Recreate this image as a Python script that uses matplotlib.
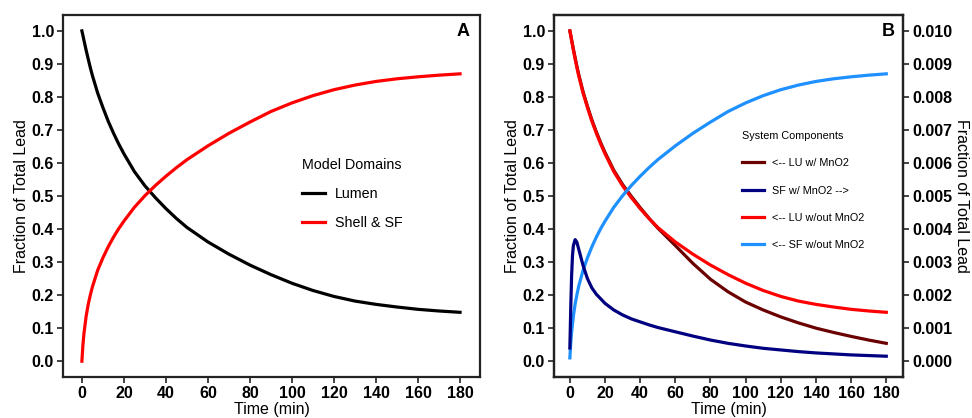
#!/usr/bin/env python3
# -*- coding: utf-8 -*-

import matplotlib
matplotlib.use("Agg")
import matplotlib.pyplot as plt
from matplotlib.ticker import FormatStrFormatter, MultipleLocator


plt.rcParams['font.family'] = ['Liberation Sans', 'DejaVu Sans']

# data
time = [0, 0.5, 1, 2, 3, 4, 5, 7.5, 10, 12.5, 15, 17.5, 20, 25, 30, 35, 40, 45, 50,
        60, 70, 80, 90, 100, 110, 120, 130, 140, 150, 160, 170, 180]

lumen = [1.0, 0.986, 0.971, 0.942, 0.915, 0.889, 0.865, 0.812, 0.768, 0.727,
         0.691, 0.658, 0.628, 0.574, 0.531, 0.495, 0.462, 0.432, 0.405,
         0.361, 0.324, 0.291, 0.262, 0.236, 0.214, 0.196, 0.182, 0.172,
         0.164, 0.157, 0.152, 0.148]

shell_sf = [0.0, 0.05, 0.085, 0.135, 0.172, 0.2, 0.225, 0.275, 0.313, 0.346,
            0.375, 0.401, 0.424, 0.466, 0.501, 0.532, 0.56, 0.586, 0.61,
            0.652, 0.69, 0.724, 0.756, 0.782, 0.804, 0.822, 0.836, 0.847,
            0.855, 0.861, 0.866, 0.87]

# panel B (left axis)
lu_with = [1.0, 0.987, 0.973, 0.945, 0.919, 0.893, 0.869, 0.816, 0.772, 0.731,
           0.695, 0.662, 0.632, 0.578, 0.535, 0.499, 0.465, 0.433, 0.403,
           0.35, 0.296, 0.248, 0.21, 0.179, 0.155, 0.134, 0.116, 0.1,
           0.087, 0.075, 0.064, 0.054]
lu_without = lumen
sf_without = [0.01, 0.055, 0.088, 0.137, 0.173, 0.201, 0.226, 0.275, 0.313, 0.346,
              0.375, 0.401, 0.424, 0.466, 0.501, 0.532, 0.56, 0.586, 0.61,
              0.652, 0.69, 0.724, 0.756, 0.782, 0.804, 0.822, 0.836, 0.847,
              0.855, 0.861, 0.866, 0.87]

# panel B (right axis)
time_sf = [0, 0.5, 1, 1.5, 2, 3, 4, 5, 7.5, 10, 12.5, 15, 20, 25, 30, 35, 40,
           45, 50, 60, 70, 80, 90, 100, 110, 120, 130, 140, 150, 160, 170, 180]
sf_with = [0.0004, 0.0016, 0.0026, 0.0032, 0.0035, 0.00368, 0.0036, 0.0034,
           0.0029, 0.0025, 0.00222, 0.00203, 0.00175, 0.00155, 0.0014,
           0.00128, 0.00119, 0.0011, 0.00102, 0.00089, 0.00076, 0.00064,
           0.00054, 0.00046, 0.00039, 0.00034, 0.00029, 0.00025, 0.00022,
           0.00019, 0.00017, 0.00015]

xticks = list(range(0, 181, 20))

fig = plt.figure(figsize=(9.72, 4.18), dpi=100)
ax_a = fig.add_axes([0.0648, 0.098, 0.429, 0.866])
ax_b = fig.add_axes([0.570, 0.098, 0.359, 0.866])

lw = 2.3
frame_col = '#222222'
tick_size = 11.5


def style(ax):
    ax.set_xlim(-9, 189.5)
    ax.set_ylim(-0.048, 1.048)
    ax.set_xticks(xticks)
    ax.yaxis.set_major_locator(MultipleLocator(0.1))
    ax.yaxis.set_major_formatter(FormatStrFormatter('%.1f'))
    ax.tick_params(direction='out', length=4.5, width=1.2, labelsize=tick_size,
                   color=frame_col, pad=2)
    for lab in ax.get_xticklabels() + ax.get_yticklabels():
        lab.set_fontweight('bold')
    for sp in ax.spines.values():
        sp.set_linewidth(1.6)
        sp.set_color(frame_col)
    ax.set_xlabel('Time (min)', fontsize=11.5, labelpad=1)
    ax.set_ylabel('Fraction of Total Lead', fontsize=11.5, labelpad=2)


# panel A
ax_a.plot(time, lumen, color='black', lw=lw, label='Lumen')
ax_a.plot(time, shell_sf, color='#ff0000', lw=lw, label='Shell & SF')
style(ax_a)
ax_a.text(0.975, 0.955, 'A', transform=ax_a.transAxes, ha='right', va='center',
          fontsize=13, fontweight='bold')
ax_a.legend(title='Model Domains', loc='upper left', bbox_to_anchor=(0.573, 0.605),
            frameon=False, fontsize=10.3, title_fontsize=10.3, alignment='left',
            handlelength=1.6, handletextpad=0.7, labelspacing=1.05,
            borderpad=0, borderaxespad=0)

# panel B
l1, = ax_b.plot(time, lu_with, color='#6b0000', lw=lw, label='<-- LU w/ MnO2')
l3, = ax_b.plot(time, lu_without, color='#ff0000', lw=lw, label='<-- LU w/out MnO2')
l4, = ax_b.plot(time, sf_without, color='#1e90ff', lw=lw, label='<-- SF w/out MnO2')
style(ax_b)

ax_r = ax_b.twinx()
l2, = ax_r.plot(time_sf, sf_with, color='#000080', lw=lw, label='SF w/ MnO2 -->')
ax_r.set_ylim(-0.00048, 0.01048)
ax_r.yaxis.set_major_locator(MultipleLocator(0.001))
ax_r.yaxis.set_major_formatter(FormatStrFormatter('%.3f'))
ax_r.tick_params(direction='out', length=4.5, width=1.2, labelsize=tick_size,
                 color=frame_col, pad=2)
for lab in ax_r.get_yticklabels():
    lab.set_fontweight('bold')
for sp in ax_r.spines.values():
    sp.set_linewidth(1.6)
    sp.set_color(frame_col)
ax_r.set_ylabel('Fraction of Total Lead', fontsize=11.5, rotation=270, labelpad=12)

ax_r.text(0.975, 0.955, 'B', transform=ax_b.transAxes, ha='right', va='center',
          fontsize=13, fontweight='bold')
ax_r.legend(handles=[l1, l2, l3, l4], title='System Components', loc='upper left',
            bbox_to_anchor=(0.539, 0.68), frameon=False, fontsize=7.8,
            title_fontsize=7.8, alignment='left', handlelength=2.0,
            handletextpad=0.8, labelspacing=1.6, borderpad=0, borderaxespad=0)

fig.savefig('out.png', dpi=100)
